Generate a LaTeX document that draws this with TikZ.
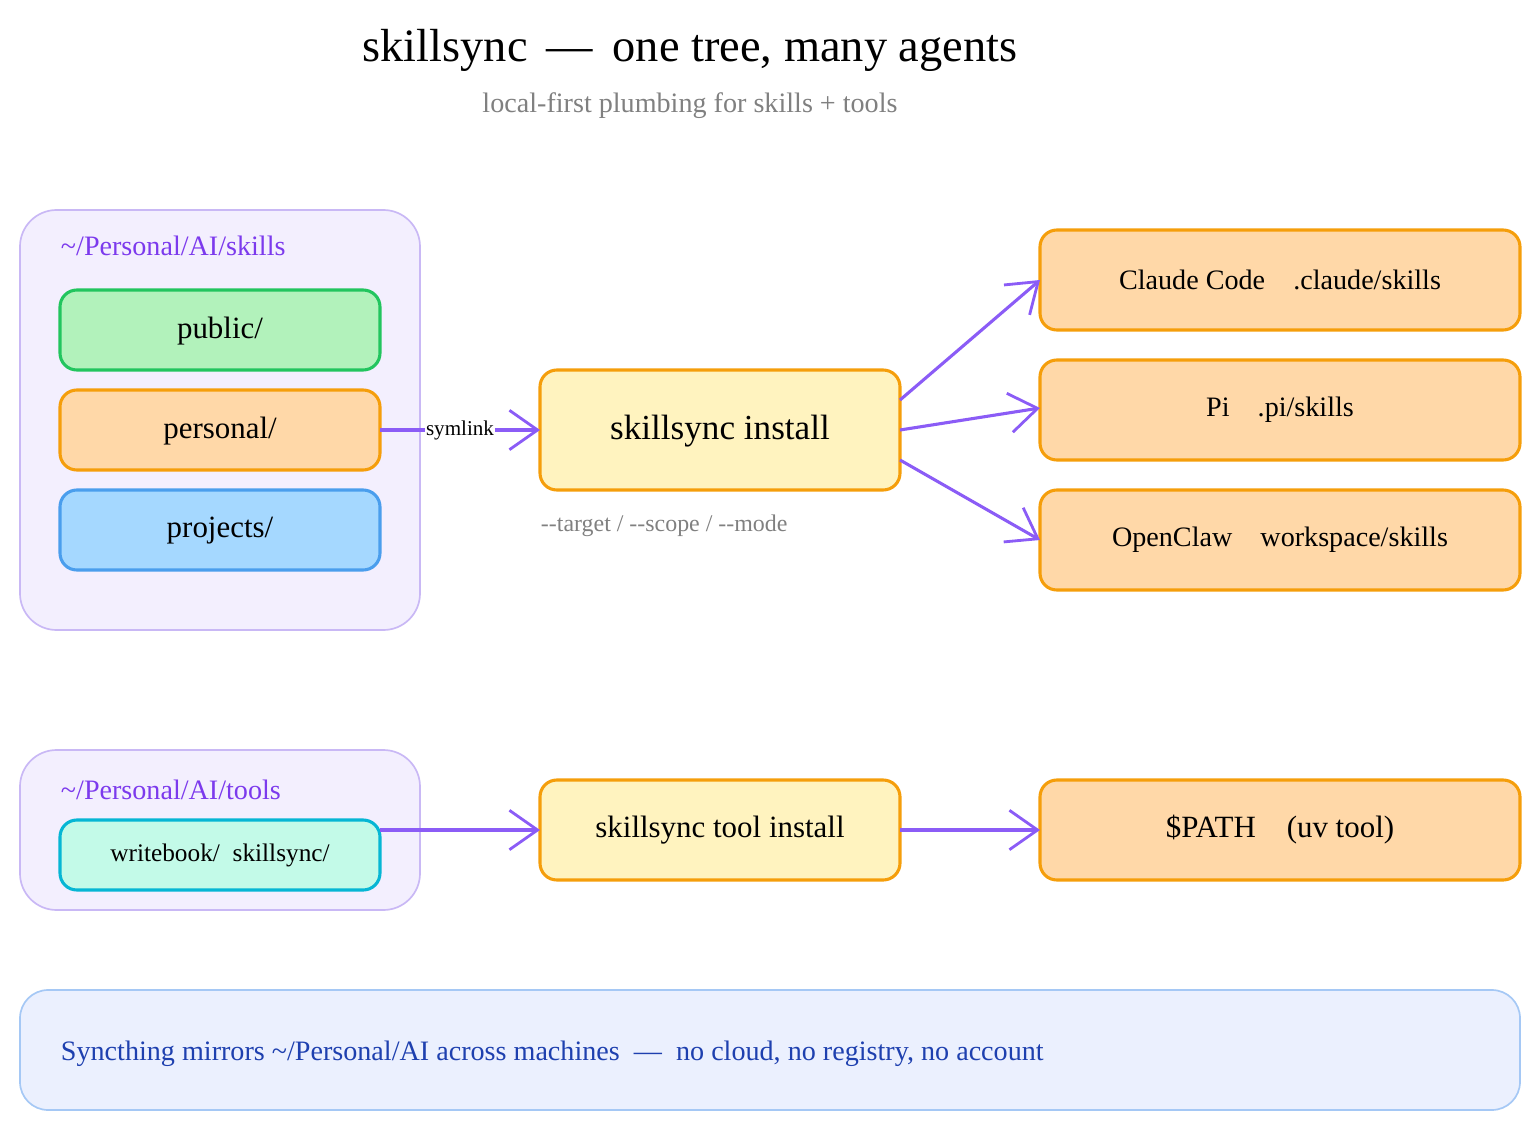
\documentclass[tikz,border=0pt]{standalone}
\usepackage{fontspec}
\setmainfont{Liberation Serif}
\usetikzlibrary{arrows.meta,positioning}
\definecolor{lavfill}{HTML}{F3EFFE}
\definecolor{lavdraw}{HTML}{C9B8F5}
\definecolor{purp}{HTML}{7C3AED}
\definecolor{arrowc}{HTML}{8B5CF6}
\definecolor{grnfill}{HTML}{B2F2BB}
\definecolor{grndraw}{HTML}{22C55E}
\definecolor{orfill}{HTML}{FFD8A8}
\definecolor{ordraw}{HTML}{F59E0B}
\definecolor{blfill}{HTML}{A5D8FF}
\definecolor{bldraw}{HTML}{4A9EED}
\definecolor{yefill}{HTML}{FFF3BF}
\definecolor{cyfill}{HTML}{C3FAE8}
\definecolor{cydraw}{HTML}{06B6D4}
\definecolor{botfill}{HTML}{EBF0FE}
\definecolor{botdraw}{HTML}{A5C8F5}
\definecolor{bottext}{HTML}{1E40AF}
\tikzset{
  box/.style={rounded corners=12pt, line width=2.2pt, inner sep=0pt},
  group/.style={rounded corners=26pt, line width=1.2pt, draw=lavdraw, fill=lavfill},
  flow/.style={-{Straight Barb[length=20pt,width=28pt,line width=2pt]}, line width=2.2pt, draw=arrowc},
}
\begin{document}
\begin{tikzpicture}[x=0.025cm,y=-0.025cm]
	\useasboundingbox (0,0) rectangle (1540,1130);
	% titles
	\node (title) at (690,50) {\fontsize{33}{38}\selectfont skillsync \,---\, one tree, many agents};
	\node[text=gray] (sub) at (690,106) {\fontsize{20}{24}\selectfont local-first plumbing for skills + tools};
	% skills group
	\draw[group] (20,210) rectangle (420,630);
	\node[anchor=west,text=purp] (skillslbl) at (56,246) {\fontsize{20}{24}\selectfont \textasciitilde/Personal/AI/skills};
	\draw[box,draw=grndraw,fill=grnfill] (60,290) rectangle (380,370);
	\node (public) at (220,331) {\fontsize{22}{26}\selectfont public/};
	\draw[box,draw=ordraw,fill=orfill] (60,390) rectangle (380,470);
	\node (personal) at (220,431) {\fontsize{22}{26}\selectfont personal/};
	\draw[box,draw=bldraw,fill=blfill] (60,490) rectangle (380,570);
	\node (projects) at (220,531) {\fontsize{22}{26}\selectfont projects/};
	% install
	\draw[box,draw=ordraw,fill=yefill] (540,370) rectangle (900,490);
	\node (install) at (720,431) {\fontsize{25}{30}\selectfont skillsync install};
	\node[anchor=west,text=gray] (flags) at (536,526) {\fontsize{17}{20}\selectfont -{}-target / -{}-scope / -{}-mode};
	% agents
	\foreach \y/\name/\txt in {230/claude/{Claude Code\quad.claude/skills},360/pi/{Pi\quad.pi/skills},490/openclaw/{OpenClaw\quad workspace/skills}}{
		\draw[box,draw=ordraw,fill=orfill] (1040,\y) rectangle (1520,\y+100);
		\node (\name) at (1280,\y+50) {\fontsize{20}{24}\selectfont \txt};
	}
	\coordinate (persE) at (380,430);
	\coordinate (instW) at (540,430);
	\draw[flow] (persE) -- node[pos=0.5,text=black,fill=white,inner sep=1pt] {\fontsize{15}{18}\selectfont symlink} (instW);
	\draw[flow] (900,400) -- (1040,280);
	\draw[flow] (900,430) -- (1040,408);
	\draw[flow] (900,460) -- (1040,540);
	% tools group
	\draw[group] (20,750) rectangle (420,910);
	\node[anchor=west,text=purp] (toolslbl) at (56,790) {\fontsize{20}{24}\selectfont \textasciitilde/Personal/AI/tools};
	\draw[box,draw=cydraw,fill=cyfill] (60,820) rectangle (380,890);
	\node (writebook) at (220,855) {\fontsize{18}{22}\selectfont writebook/\enspace skillsync/};
	\draw[box,draw=ordraw,fill=yefill] (540,780) rectangle (900,880);
	\node (toolinstall) at (720,830) {\fontsize{22}{26}\selectfont skillsync tool install};
	\draw[box,draw=ordraw,fill=orfill] (1040,780) rectangle (1520,880);
	\node (path) at (1280,830) {\fontsize{22}{26}\selectfont \$PATH\quad(uv tool)};
	\draw[flow] (380,830) -- (540,830);
	\draw[flow] (900,830) -- (1040,830);
	% footer
	\draw[rounded corners=20pt,line width=1.2pt,draw=botdraw,fill=botfill] (20,990) rectangle (1520,1110);
	\node[anchor=west,text=bottext] (footer) at (56,1054) {\fontsize{20}{24}\selectfont Syncthing mirrors \textasciitilde/Personal/AI across machines\enspace---\enspace no cloud, no registry, no account};
\end{tikzpicture}
\end{document}
